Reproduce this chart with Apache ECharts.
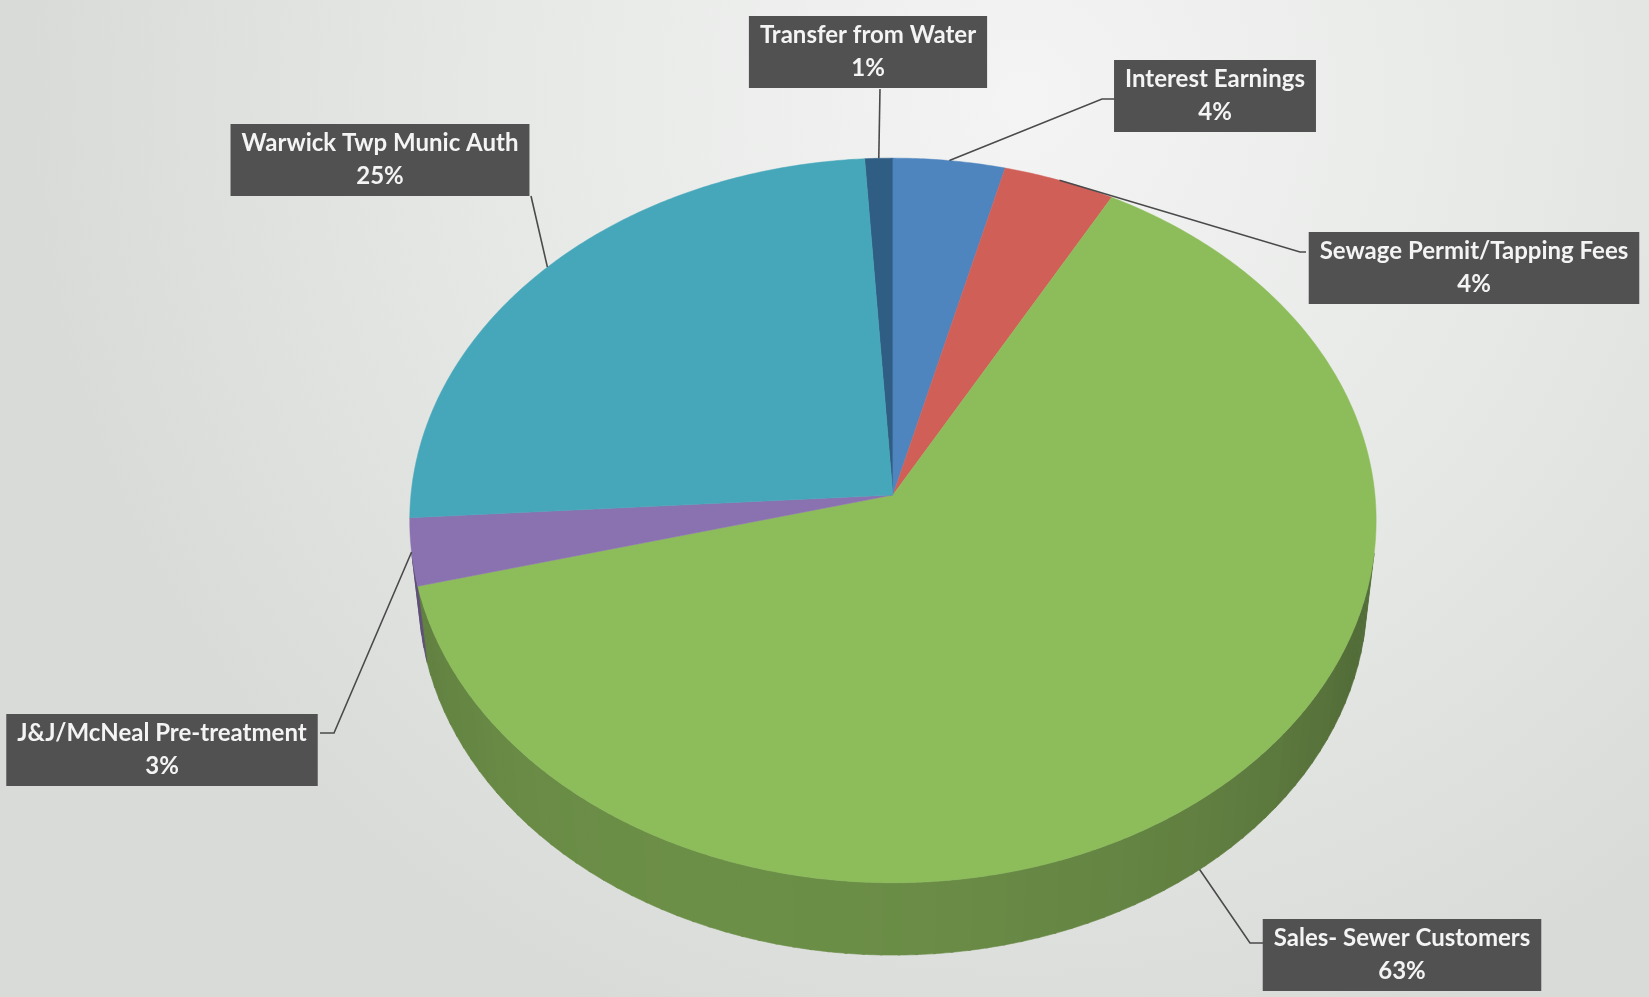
<!DOCTYPE html>
<html>
<head>
<meta charset="utf-8">
<script src="https://cdn.jsdelivr.net/npm/echarts@6/dist/echarts.min.js"></script>
<style>
html,body{margin:0;padding:0;width:100%;height:100%;overflow:hidden;}
#chart{width:1649px;height:997px;}
</style>
</head>
<body>
<div id="chart"></div>
<script>
// ---- data ----
const categories = ['Transfer from Water', 'Interest Earnings', 'Sewage Permit/Tapping Fees',
  'Sales- Sewer Customers', 'J&J/McNeal Pre-treatment', 'Warwick Twp Munic Auth'];
const values = [1, 4, 4, 63, 3, 25];
const sliceColors = ['#2f5d84', '#4f85bf', '#d05f58', '#8dbd5b', '#8a72b0', '#45a7b9'];

// ---- layout (fractions of the canvas) ----
const pieLayout = { cx: 0.5415, cy: 0.4965, radius: 0.2923, startDeg: -3.6,
  sinE: 0.748, cosE: 0.664, persp: 0.1057, depth: 0.237 };
// label box centre and leader-line bend/end points (pixels)
const labelLayout = [
  { box: [868, 52], path: [[880, 89]] },
  { box: [1215, 96], path: [[1102, 99], [1115, 99]] },
  { box: [1474, 268], path: [[1300, 252], [1306, 252]] },
  { box: [1402, 955], path: [[1250, 943], [1265, 943]] },
  { box: [162, 750], path: [[334, 733], [320, 733]] },
  { box: [380, 160], path: [[531, 196]] }
];

const total = values.reduce((a, b) => a + b, 0);
const starts = [];
let acc = 0;
values.forEach(v => { starts.push(pieLayout.startDeg + acc / total * 360); acc += v; });
const ends = values.map((v, i) => starts[i] + v / total * 360);
const pctText = values.map(v => Math.round(v / total * 100) + '%');

function geom(api) {
  const w = api.getWidth(), h = api.getHeight();
  return { cx: pieLayout.cx * w, cy: pieLayout.cy * h, W: pieLayout.radius * w };
}
function proj(g, deg, down) {
  const p = deg * Math.PI / 180, s = Math.sin(p), c = Math.cos(p);
  const t = down ? pieLayout.depth : 0;
  const yc = c * pieLayout.sinE - t * pieLayout.cosE;
  const zc = 1 + pieLayout.persp * (c * pieLayout.cosE + t * pieLayout.sinE);
  return [g.cx + g.W * s / zc, g.cy - g.W * yc / zc];
}
function arc(a0, a1) {
  const n = Math.max(2, Math.ceil(Math.abs(a1 - a0) / 0.5));
  const out = [];
  for (let i = 0; i <= n; i++) out.push(a0 + (a1 - a0) * i / n);
  return out;
}
function shade(hex, f) {
  const r = parseInt(hex.slice(1, 3), 16), gg = parseInt(hex.slice(3, 5), 16), b = parseInt(hex.slice(5, 7), 16);
  const m = x => Math.round(Math.min(255, x * f + 18 * (1 - f)));
  return 'rgb(' + m(r) + ',' + m(gg) + ',' + m(b) + ')';
}
// visible side wall range (perspective tangent)
const tang = Math.acos(pieLayout.persp / pieLayout.cosE) * 180 / Math.PI;
const visL = 180 - tang, visR = 180 + tang;

function wallItem(params, api) {
  const i = params.dataIndex, g = geom(api);
  const children = [];
  [0, 360, -360].forEach(off => {
    const a0 = Math.max(starts[i] + off, visL), a1 = Math.min(ends[i] + off, visR);
    if (a1 <= a0) return;
    const step = 2;
    for (let a = a0; a < a1; a += step) {
      const b = Math.min(a + step + 0.3, a1);
      const pts = [];
      arc(a, b).forEach(d => pts.push(proj(g, d, false)));
      arc(a, b).reverse().forEach(d => pts.push(proj(g, d, true)));
      const mid = (a + b) / 2;
      const f = 0.53 + 0.2 * Math.max(0, Math.cos((mid - 200) * Math.PI / 180));
      children.push({ type: 'polygon', shape: { points: pts },
        style: { fill: shade(sliceColors[i], f), stroke: shade(sliceColors[i], f), lineWidth: 0.6 } });
    }
  });
  return { type: 'group', children };
}

function topItem(params, api) {
  const i = params.dataIndex, g = geom(api);
  const pts = [[g.cx, g.cy]];
  arc(starts[i], ends[i]).forEach(d => pts.push(proj(g, d, false)));
  return { type: 'polygon', shape: { points: pts },
    style: { fill: sliceColors[i], stroke: sliceColors[i], lineWidth: 0.5 } };
}

function labelItem(params, api) {
  const i = params.dataIndex, g = geom(api);
  const mid = (starts[i] + ends[i]) / 2;
  const c = Math.cos(mid * Math.PI / 180);
  const anchor = proj(g, mid, c < -0.5);
  const L = labelLayout[i];
  const pts = [anchor].concat(L.path);
  return { type: 'group', children: [
    { type: 'polyline', shape: { points: pts }, z2: 1,
      style: { stroke: '#4a4a4a', lineWidth: 1.6, fill: null } },
    { type: 'text', x: L.box[0], y: L.box[1], z2: 2,
      style: { text: categories[i] + '\n' + pctText[i], align: 'center', verticalAlign: 'middle',
        fill: '#f4f4f4', fontFamily: 'Lato', fontWeight: 'bold', fontSize: 24, lineHeight: 33,
        backgroundColor: '#515151', padding: [3, 11, 3, 11],
        boxShadowBlur: 5, boxShadowColor: 'rgba(0,0,0,0.35)', boxShadowOffsetX: 2, boxShadowOffsetY: 3 } }
  ]};
}

const chart = echarts.init(document.getElementById('chart'), null, { renderer: 'canvas' });
const seriesData = values.map((v, i) => ({ name: categories[i], value: v }));
chart.setOption({
  backgroundColor: { type: 'radial', x: 0.62, y: 0.1, r: 1.0,
    colorStops: [{ offset: 0, color: '#f3f4f3' }, { offset: 0.55, color: '#e6e8e6' }, { offset: 1, color: '#d9dbd9' }] },
  animation: false,
  series: [
    { type: 'custom', coordinateSystem: 'none', renderItem: wallItem, data: seriesData, z: 1, silent: true },
    { type: 'custom', coordinateSystem: 'none', renderItem: topItem, data: seriesData, z: 2, silent: true },
    { type: 'custom', coordinateSystem: 'none', renderItem: labelItem, data: seriesData, z: 3, silent: true }
  ]
});
</script>
</body>
</html>
